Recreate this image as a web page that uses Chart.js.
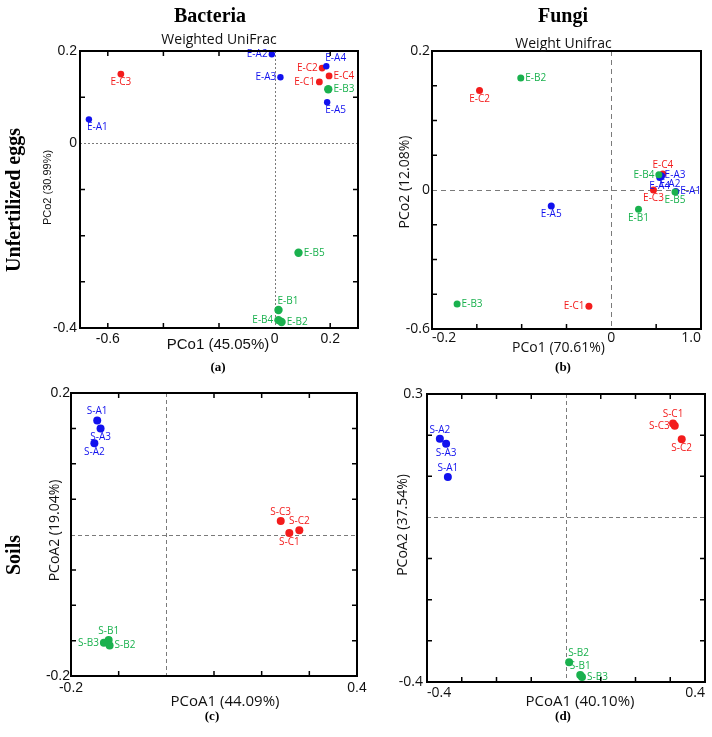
<!DOCTYPE html>
<html>
<head>
<meta charset="utf-8">
<script src="https://cdn.jsdelivr.net/npm/chart.js@4.4.0/dist/chart.umd.min.js"></script>
<style>
body { margin: 0; background: #fff; overflow: hidden; }
#page { position: relative; width: 712px; height: 737px; }
canvas { position: absolute; }
.lbl { position: absolute; font-family: "Liberation Serif", serif; font-weight: bold; white-space: nowrap; transform: translate(-50%, -50%); color: #000; }
.rot { transform: translate(-50%, -50%) rotate(-90deg); }
</style>
</head>
<body>
<div id="page">
  <canvas id="ca"></canvas>
  <canvas id="cb"></canvas>
  <canvas id="cc"></canvas>
  <canvas id="cd"></canvas>
  <div class="lbl" style="left:210px;top:15px;font-size:20px">Bacteria</div>
  <div class="lbl" style="left:563px;top:15px;font-size:20px">Fungi</div>
  <div class="lbl rot" style="left:13px;top:200px;font-size:20px">Unfertilized eggs</div>
  <div class="lbl rot" style="left:13px;top:555px;font-size:20px">Soils</div>
  <div class="lbl" style="left:218px;top:367px;font-size:13px">(a)</div>
  <div class="lbl" style="left:563px;top:367px;font-size:13px">(b)</div>
  <div class="lbl" style="left:212px;top:716px;font-size:13px">(c)</div>
  <div class="lbl" style="left:563px;top:716px;font-size:13px">(d)</div>
</div>
<script>
// ---------- (a) bacteria, unfertilized eggs ----------
const aRangeX = [-0.7, 0.3];
const aRangeY = [-0.4, 0.2];
const aTicksX = [-0.6, -0.4, -0.2, 0, 0.2];
const aTicksY = [-0.4, -0.3, -0.2, -0.1, 0, 0.1, 0.2];
const aLabelsX = ['-0.6', '0', '0.2'];
const aLabelsY = ['-0.4', '0', '0.2'];
const aNamesA = ['E-A1', 'E-A2', 'E-A3', 'E-A4', 'E-A5'];
const aXA = [-0.668, -0.010, 0.021, 0.186, 0.189];
const aYA = [0.052, 0.193, 0.143, 0.167, 0.089];
const aNamesB = ['E-B1', 'E-B2', 'E-B3', 'E-B4', 'E-B5'];
const aXB = [0.014, 0.025, 0.193, 0.014, 0.086];
const aYB = [-0.361, -0.387, 0.117, -0.383, -0.237];
const aNamesC = ['E-C1', 'E-C2', 'E-C3', 'E-C4'];
const aXC = [0.161, 0.171, -0.553, 0.196];
const aYC = [0.133, 0.163, 0.150, 0.146];

// ---------- (b) fungi, unfertilized eggs (axis ticks are unevenly valued) ----------
const bRangeX = [-0.2, 1.0];
const bRangeY = [-0.6, 0.2];
const bTicksX = [-0.2, -0.15, -0.1, -0.05, 0, 0.5, 1.0];
const bTicksY = [-0.6, -0.45, -0.3, -0.15, 0, 0.05, 0.1, 0.15, 0.2];
const bLabelsX = ['-0.2', '0', '1.0'];
const bLabelsY = ['-0.6', '0', '0.2'];
const bNamesA = ['E-A1', 'E-A2', 'E-A3', 'E-A4', 'E-A5'];
const bXA = [0.719, 0.56, 0.544, 0.54, -0.067];
const bYA = [-0.007, 0.020, 0.021, 0.018, -0.069];
const bNamesB = ['E-B1', 'E-B2', 'E-B3', 'E-B4', 'E-B5'];
const bXB = [0.303, -0.101, -0.172, 0.53, 0.71];
const bYB = [-0.083, 0.161, -0.492, 0.022, -0.009];
const bNamesC = ['E-C1', 'E-C2', 'E-C3', 'E-C4'];
const bXC = [-0.025, -0.147, 0.47, 0.574];
const bYC = [-0.502, 0.143, 0.0, 0.023];

// ---------- (c) bacteria, soils ----------
const cRangeX = [-0.2, 0.4];
const cRangeY = [-0.2, 0.2];
const cTicksX = [-0.2, -0.1, 0, 0.1, 0.2, 0.3, 0.4];
const cTicksY = [-0.2, -0.15, -0.1, -0.05, 0, 0.05, 0.1, 0.15, 0.2];
const cLabelsX = ['-0.2', '0.4'];
const cLabelsY = ['-0.2', '0.2'];
const cNamesA = ['S-A1', 'S-A2', 'S-A3'];
const cXA = [-0.145, -0.151, -0.138];
const cYA = [0.161, 0.129, 0.150];
const cNamesB = ['S-B1', 'S-B2', 'S-B3'];
const cXB = [-0.121, -0.119, -0.131];
const cYB = [-0.149, -0.157, -0.153];
const cNamesC = ['S-C1', 'S-C2', 'S-C3'];
const cXC = [0.258, 0.279, 0.240];
const cYC = [0.002, 0.006, 0.019];

// ---------- (d) fungi, soils ----------
const dRangeX = [-0.4, 0.4];
const dRangeY = [-0.4, 0.3];
const dTicksX = [-0.4, -0.3, -0.2, -0.1, 0, 0.1, 0.2, 0.3, 0.4];
const dTicksY = [-0.4, -0.3, -0.2, -0.1, 0, 0.1, 0.2, 0.3];
const dLabelsX = ['-0.4', '0.4'];
const dLabelsY = ['-0.4', '0.3'];
const dNamesA = ['S-A1', 'S-A2', 'S-A3'];
const dXA = [-0.340, -0.363, -0.345];
const dYA = [0.098, 0.191, 0.179];
const dNamesB = ['S-B1', 'S-B2', 'S-B3'];
const dXB = [0.041, 0.009, 0.046];
const dYB = [-0.383, -0.352, -0.388];
const dNamesC = ['S-C1', 'S-C2', 'S-C3'];
const dXC = [0.308, 0.333, 0.313];
const dYC = [0.228, 0.190, 0.223];

const BLUE = '#1111ee';
const RED = '#f31c1c';
const GREEN = '#1ab14e';

// scale whose listed ticks are drawn evenly spaced (panel b)
class EvenTickScale extends Chart.LinearScale {
    static id = 'eventick';
    static defaults = {};
    _dec(v) {
        const t = this.ticks.map(k => k.value);
        const n = t.length - 1;
        let i = 0;
        while (i < n - 1 && v > t[i + 1]) i++;
        return (i + (v - t[i]) / (t[i + 1] - t[i])) / n;
    }
    getPixelForValue(v) {
        return this.getPixelForDecimal(this._dec(v));
    }
    getValueForPixel(p) {
        const t = this.ticks.map(k => k.value);
        const n = t.length - 1;
        const d = this.getDecimalForPixel(p) * n;
        const i = Math.max(0, Math.min(n - 1, Math.floor(d)));
        return t[i] + (d - i) * (t[i + 1] - t[i]);
    }
}
Chart.register(EvenTickScale);

const panelPlugin = {
    id: 'panel',
    beforeDatasetsDraw(chart, args, o) {
        const { ctx, chartArea: a, scales: { x, y } } = chart;
        const x0 = Math.round(x.getPixelForValue(0)) + 0.5;
        const y0 = Math.round(y.getPixelForValue(0)) + 0.5;
        ctx.save();
        ctx.strokeStyle = '#7a7a7a';
        ctx.lineWidth = 1;
        ctx.setLineDash(o.dash);
        ctx.beginPath();
        ctx.moveTo(x0, a.top); ctx.lineTo(x0, a.bottom);
        ctx.moveTo(a.left, y0); ctx.lineTo(a.right, y0);
        ctx.stroke();
        ctx.restore();
    },
    afterDatasetsDraw(chart) {
        const ctx = chart.ctx;
        ctx.save();
        ctx.font = '10px "Open Sans"';
        chart.data.datasets.forEach((ds, i) => {
            ctx.fillStyle = ds.borderColor;
            chart.getDatasetMeta(i).data.forEach((pt, j) => {
                const r = ds.pointRadius;
                let tx = pt.x, ty = pt.y;
                switch (ds.labelPos[j]) {
                    case 'r': ctx.textAlign = 'left'; ctx.textBaseline = 'middle'; tx += r + 1; break;
                    case 'l': ctx.textAlign = 'right'; ctx.textBaseline = 'middle'; tx -= r + 1; break;
                    case 't': ctx.textAlign = 'center'; ctx.textBaseline = 'bottom'; ty -= r; break;
                    case 'b': ctx.textAlign = 'center'; ctx.textBaseline = 'top'; ty += r; break;
                    case 'tr': ctx.textAlign = 'left'; ctx.textBaseline = 'bottom'; tx -= 1; ty -= r; break;
                    case 'br': ctx.textAlign = 'left'; ctx.textBaseline = 'top'; tx -= 2; ty += r; break;
                }
                ctx.fillText(ds.names[j], tx, ty);
            });
        });
        ctx.restore();
    },
    afterDraw(chart, args, o) {
        const { ctx, chartArea: a, scales: { x, y } } = chart;
        const L = 5;
        ctx.save();
        ctx.strokeStyle = '#000';
        ctx.lineWidth = 1.5;
        ctx.beginPath();
        x.ticks.forEach(t => {
            const p = x.getPixelForValue(t.value);
            if (t.value === 0 || p <= a.left + 1 || p >= a.right - 1) return;
            ctx.moveTo(p, a.bottom); ctx.lineTo(p, a.bottom - L);
            if (o.mirror) { ctx.moveTo(p, a.top); ctx.lineTo(p, a.top + L); }
        });
        y.ticks.forEach(t => {
            const p = y.getPixelForValue(t.value);
            if (t.value === 0 || p <= a.top + 1 || p >= a.bottom - 1) return;
            ctx.moveTo(a.left, p); ctx.lineTo(a.left + L, p);
            if (o.mirror) { ctx.moveTo(a.right, p); ctx.lineTo(a.right - L, p); }
        });
        ctx.stroke();
        ctx.lineWidth = 2;
        ctx.strokeRect(a.left, a.top, a.width, a.height);

        // titles
        ctx.fillStyle = '#111';
        ctx.textAlign = 'center';
        ctx.textBaseline = 'middle';
        const cx = (a.left + a.right) / 2, cy = (a.top + a.bottom) / 2;
        if (o.title) {
            ctx.font = o.titleFont;
            ctx.fillText(o.title, cx + o.titleDx, a.top - o.titleDy);
        }
        ctx.font = o.xTitleFont;
        ctx.fillText(o.xTitle, cx + o.xTitleDx, a.bottom + o.xTitleDy);
        ctx.font = o.yTitleFont;
        ctx.translate(a.left - o.yTitleDx, cy + o.yTitleDy);
        ctx.rotate(-Math.PI / 2);
        ctx.fillText(o.yTitle, 0, 0);
        ctx.restore();
    }
};

function series(names, xs, ys, color, r, pos) {
    return {
        names: names,
        labelPos: pos,
        data: xs.map((v, i) => ({ x: v, y: ys[i] })),
        backgroundColor: color,
        borderColor: color,
        borderWidth: 0,
        pointRadius: r,
        pointHoverRadius: r
    };
}

function pick(labels) {
    return (v) => {
        const s = labels.find(l => Math.abs(parseFloat(l) - v) < 1e-9);
        return s === undefined ? '' : s;
    };
}

function makePanel(id, box, area, p) {
    const yW = 40, xH = 20;
    const canvas = document.getElementById(id);
    canvas.width = box.w;
    canvas.height = box.h;
    canvas.style.left = box.x + 'px';
    canvas.style.top = box.y + 'px';
    const tickFont = { family: p.tickFamily, size: 14 };
    new Chart(canvas, {
        type: 'scatter',
        data: { datasets: p.datasets },
        options: {
            responsive: false,
            animation: false,
            events: [],
            layout: {
                padding: {
                    left: area.l - box.x - yW,
                    top: area.t - box.y,
                    right: box.x + box.w - area.r,
                    bottom: box.y + box.h - area.b - xH
                }
            },
            plugins: { legend: { display: false }, tooltip: { enabled: false }, panel: p.panel },
            scales: {
                x: {
                    type: p.scaleType,
                    min: p.rangeX[0], max: p.rangeX[1],
                    grid: { display: false, drawTicks: false },
                    border: { display: false },
                    ticks: { autoSkip: false, maxRotation: 0, align: p.xAlign, padding: p.xPad, font: tickFont, color: '#111', callback: pick(p.labelsX) },
                    afterBuildTicks: s => { s.ticks = p.ticksX.map(v => ({ value: v })); },
                    afterFit: s => { s.height = xH; s.paddingLeft = 0; s.paddingRight = 0; }
                },
                y: {
                    type: p.scaleType,
                    min: p.rangeY[0], max: p.rangeY[1],
                    grid: { display: false, drawTicks: false },
                    border: { display: false },
                    ticks: { autoSkip: false, padding: p.yPad, font: tickFont, color: '#111', callback: pick(p.labelsY) },
                    afterBuildTicks: s => { s.ticks = p.ticksY.map(v => ({ value: v })); },
                    afterFit: s => { s.width = yW; s.paddingTop = 0; s.paddingBottom = 0; }
                }
            }
        },
        plugins: [panelPlugin]
    });
}

makePanel('ca', { x: 0, y: 22, w: 372, h: 348 }, { l: 80, t: 51, r: 358, b: 328 }, {
    scaleType: 'linear', tickFamily: 'Liberation Sans', xPad: 3, yPad: 3, xAlign: 'center',
    rangeX: aRangeX, rangeY: aRangeY, ticksX: aTicksX, ticksY: aTicksY, labelsX: aLabelsX, labelsY: aLabelsY,
    datasets: [
        series(aNamesA, aXA, aYA, BLUE, 3.2, ['br', 'l', 'l', 'tr', 'br']),
        series(aNamesC, aXC, aYC, RED, 3.4, ['l', 'l', 'b', 'r']),
        series(aNamesB, aXB, aYB, GREEN, 4.2, ['tr', 'r', 'r', 'l', 'r'])
    ],
    panel: {
        dash: [2, 2], mirror: true,
        title: 'Weighted UniFrac', titleFont: '14px "Open Sans"', titleDx: 0, titleDy: 11,
        xTitle: 'PCo1 (45.05%)', xTitleFont: '15px "Liberation Sans"', xTitleDx: -1, xTitleDy: 17,
        yTitle: 'PCo2 (30.99%)', yTitleFont: '11px "Liberation Sans"', yTitleDx: 32, yTitleDy: -2
    }
});

makePanel('cb', { x: 372, y: 22, w: 340, h: 348 }, { l: 432, t: 51, r: 701, b: 329 }, {
    scaleType: 'eventick', tickFamily: 'Open Sans', xPad: 1, yPad: 2, xAlign: 'inner',
    rangeX: bRangeX, rangeY: bRangeY, ticksX: bTicksX, ticksY: bTicksY, labelsX: bLabelsX, labelsY: bLabelsY,
    datasets: [
        series(bNamesB, bXB, bYB, GREEN, 3.5, ['b', 'r', 'r', 'l', 'b']),
        series(bNamesA, bXA, bYA, BLUE, 3.5, ['r', 'br', 'r', 'b', 'b']),
        series(bNamesC, bXC, bYC, RED, 3.5, ['l', 'b', 'b', 't'])
    ],
    panel: {
        dash: [5, 4], mirror: false,
        title: 'Weight Unifrac', titleFont: '14px "Open Sans"', titleDx: -3, titleDy: 7,
        xTitle: 'PCo1 (70.61%)', xTitleFont: '14px "Open Sans"', xTitleDx: -8, xTitleDy: 19,
        yTitle: 'PCo2 (12.08%)', yTitleFont: '14px "Open Sans"', yTitleDx: 27, yTitleDy: -8
    }
});

makePanel('cc', { x: 0, y: 370, w: 372, h: 360 }, { l: 71, t: 393, r: 357, b: 676 }, {
    scaleType: 'linear', tickFamily: 'Liberation Sans', xPad: 4, yPad: 1, xAlign: 'center',
    rangeX: cRangeX, rangeY: cRangeY, ticksX: cTicksX, ticksY: cTicksY, labelsX: cLabelsX, labelsY: cLabelsY,
    datasets: [
        series(cNamesA, cXA, cYA, BLUE, 4, ['t', 'b', 'b']),
        series(cNamesB, cXB, cYB, GREEN, 4, ['t', 'r', 'l']),
        series(cNamesC, cXC, cYC, RED, 4, ['b', 't', 't'])
    ],
    panel: {
        dash: [4, 3], mirror: true, title: '',
        xTitle: 'PCoA1 (44.09%)', xTitleFont: '15px "Open Sans"', xTitleDx: 11, xTitleDy: 26,
        yTitle: 'PCoA2 (19.04%)', yTitleFont: '14px "Open Sans"', yTitleDx: 16, yTitleDy: -4
    }
});

makePanel('cd', { x: 372, y: 370, w: 340, h: 360 }, { l: 427, t: 394, r: 705, b: 682 }, {
    scaleType: 'linear', tickFamily: 'Open Sans', xPad: 3, yPad: 4, xAlign: 'inner',
    rangeX: dRangeX, rangeY: dRangeY, ticksX: dTicksX, ticksY: dTicksY, labelsX: dLabelsX, labelsY: dLabelsY,
    datasets: [
        series(dNamesA, dXA, dYA, BLUE, 4, ['t', 't', 'b']),
        series(dNamesB, dXB, dYB, GREEN, 4, ['t', 'tr', 'r']),
        series(dNamesC, dXC, dYC, RED, 4, ['t', 'b', 'l'])
    ],
    panel: {
        dash: [4, 3], mirror: true, title: '',
        xTitle: 'PCoA1 (40.10%)', xTitleFont: '15px "Open Sans"', xTitleDx: 14, xTitleDy: 20,
        yTitle: 'PCoA2 (37.54%)', yTitleFont: '14px "Open Sans"', yTitleDx: 24, yTitleDy: -13
    }
});
</script>
</body>
</html>
